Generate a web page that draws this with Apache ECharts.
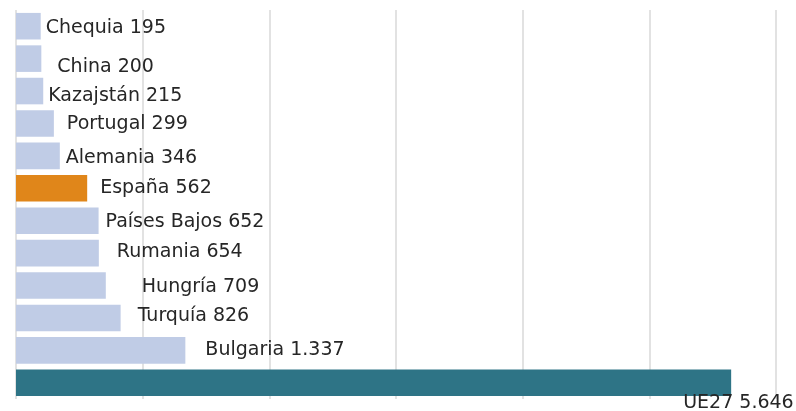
<!DOCTYPE html>
<html><head><meta charset="utf-8">
<script src="https://cdn.jsdelivr.net/npm/echarts@6/dist/echarts.min.js"></script>
<style>html,body{margin:0;padding:0;background:#fff}#c{width:796px;height:411px}</style>
</head><body><div id="c"></div>
<script>
const categories = ["Chequia","China","Kazajstán","Portugal","Alemania","España","Países Bajos","Rumania","Hungría","Turquía","Bulgaria","UE27"];
const values = [195,200,215,299,346,562,652,654,709,826,1337,5646];
const xTicks = [0,1000,2000,3000,4000,5000,6000];

// styling (not data)
const labelOffsets = [[5,2],[16,8],[5,5],[13,1],[6,2],[13,0],[7,1],[18,-1],[36,2],[17,-1.5],[20,0],[-48,20]];
const colorFor = c => c === "España" ? "#E0861A" : (c === "UE27" ? "#2E7486" : "#C0CCE6");
const fmt = v => String(v).replace(/\B(?=(\d{3})+(?!\d))/g, ".");

const chart = echarts.init(document.getElementById('c'));
chart.setOption({
  animation: false,
  grid: {left: 16, right: 20, top: 10, bottom: 12, containLabel: false},
  xAxis: {
    type: 'value', min: xTicks[0], max: xTicks[xTicks.length-1], interval: 1000,
    axisLabel: {show: false}, axisTick: {show: false}, axisLine: {show: false},
    splitLine: {show: true, lineStyle: {color: '#d9d9d9', width: 1.5}}
  },
  yAxis: {
    type: 'category', data: categories, inverse: true,
    axisLabel: {show: false}, axisTick: {show: false}, axisLine: {show: false}
  },
  series: [{
    type: 'bar',
    barCategoryGap: '18%',
    data: values.map((v, i) => ({
      value: v,
      itemStyle: {color: colorFor(categories[i])},
      label: {offset: labelOffsets[i]}
    })),
    label: {
      show: true, position: 'right', distance: 0,
      fontFamily: 'DejaVu Sans', fontSize: 19, color: '#262626',
      formatter: p => p.name + ' ' + fmt(p.value)
    }
  }]
});
</script></body></html>
